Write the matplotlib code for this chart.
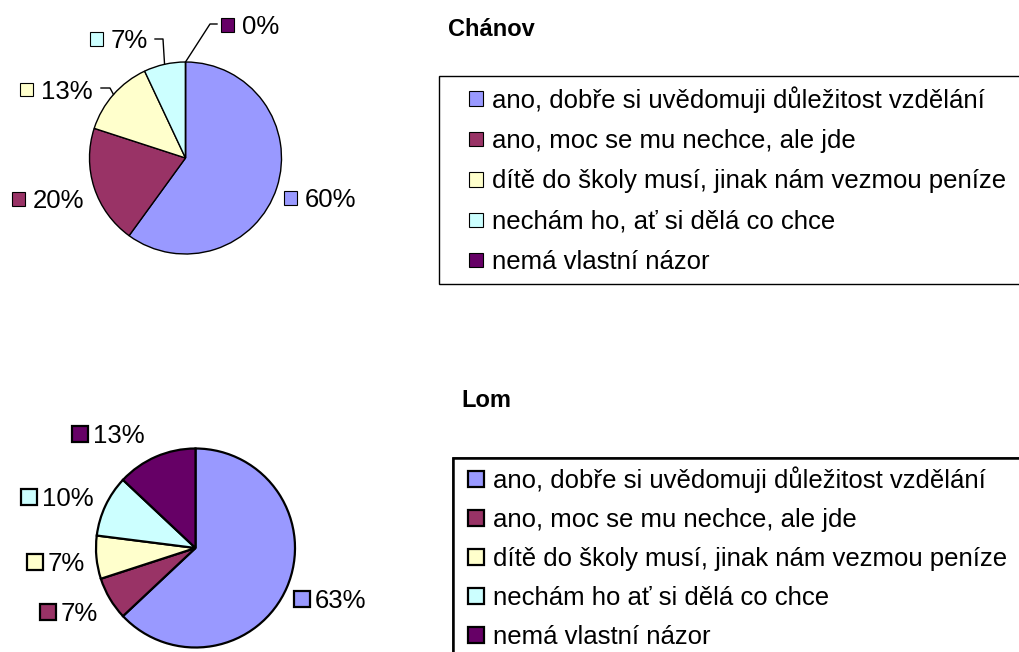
import numpy as np
import matplotlib
matplotlib.use("Agg")
import matplotlib.pyplot as plt
from matplotlib.patches import Rectangle
from matplotlib.legend_handler import HandlerPatch

# ---------------- data ----------------
categories_chanov = [
    "ano, dobře si uvědomuji důležitost vzdělání",
    "ano, moc se mu nechce, ale jde",
    "dítě do školy musí, jinak nám vezmou peníze",
    "nechám ho, ať si dělá co chce",
    "nemá vlastní názor",
]
categories_lom = [
    "ano, dobře si uvědomuji důležitost vzdělání",
    "ano, moc se mu nechce, ale jde",
    "dítě do školy musí, jinak nám vezmou peníze",
    "nechám ho ať si dělá co chce",
    "nemá vlastní názor",
]
values_chanov = [60, 20, 13, 7, 0]
values_lom = [63, 7, 7, 10, 13]
title_chanov = "Chánov"
title_lom = "Lom"
colors = ["#9999FF", "#993366", "#FFFFCC", "#CCFFFF", "#660066"]

# ---------------- layout (pixels, y measured from top) ----------------
W, H, DPI = 1019, 652, 100
FS = 18.5                      # points
FSPX = FS * DPI / 72.0         # pixels
PT = 72.0 / DPI                # px -> pt

plt.rcParams["font.family"] = ["Liberation Sans", "DejaVu Sans"]

fig = plt.figure(figsize=(W / DPI, H / DPI), dpi=DPI)
ax = fig.add_axes([0, 0, 1, 1])


def Y(y):
    return H - y


class SquareHandler(HandlerPatch):
    def __init__(self, size_px, lw):
        super().__init__()
        self.size = size_px * PT
        self.lw = lw

    def create_artists(self, legend, orig_handle, xdescent, ydescent,
                       width, height, fontsize, trans):
        s = self.size
        x0 = -xdescent + width - s
        y0 = -ydescent + (height - s) / 2.0
        r = Rectangle((x0, y0), s, s, facecolor=orig_handle.get_facecolor(),
                      edgecolor="black", lw=self.lw, transform=trans)
        return [r]


def draw_pie(values, cats, title, center, radius, edge_lw, label_pos, sq,
             sq_lw, leaders, title_xy, leg_anchor, leg_pad_px, leg_handle_px,
             leg_sq_px, leg_spacing_px, leg_lw, leg_sq_lw):
    cx, cy = center
    wedges, _ = ax.pie(values, colors=colors, startangle=90, counterclock=False,
                       center=(cx, Y(cy)), radius=radius, frame=True,
                       wedgeprops=dict(edgecolor="black", linewidth=edge_lw))
    # data labels
    for i, (w, v) in enumerate(zip(wedges, values)):
        lx, ly = label_pos[i]
        ax.add_patch(Rectangle((lx, Y(ly) - sq / 2.0), sq, sq,
                               facecolor=colors[i], edgecolor="black",
                               lw=sq_lw, zorder=5))
        ax.text(lx + 21, Y(ly + 0.358 * FSPX), f"{v}%", fontsize=FS,
                ha="left", va="baseline", color="black", zorder=5)
        if i in leaders:
            mid = np.deg2rad((w.theta1 + w.theta2) / 2.0)
            ex = cx + radius * np.cos(mid)
            ey = Y(cy) + radius * np.sin(mid)
            pts = [(ex, ey)] + [(px, Y(py)) for px, py in leaders[i]]
            xs, ys = zip(*pts)
            ax.plot(xs, ys, color="black", lw=1.0, zorder=4)
    # title
    ax.text(title_xy[0], Y(title_xy[1]), title, fontsize=17, fontweight="bold",
            ha="left", va="baseline", color="black")
    # legend (right edge runs past the figure border, as in the original)
    text_h = 0.93 * FSPX
    leg = ax.legend(wedges, cats, loc="upper left", mode="expand",
                    bbox_to_anchor=(leg_anchor[0] / W, 1 - leg_anchor[1] / H,
                                    (1040 - leg_anchor[0]) / W, 0),
                    bbox_transform=fig.transFigure, borderaxespad=0,
                    fontsize=FS, frameon=True, fancybox=False, shadow=False,
                    framealpha=1, borderpad=leg_pad_px / FSPX,
                    handlelength=leg_handle_px / FSPX,
                    handleheight=0.7, handletextpad=9 / FSPX,
                    labelspacing=(leg_spacing_px - text_h) / FSPX,
                    handler_map={w: SquareHandler(leg_sq_px, leg_sq_lw)
                                 for w in wedges})
    leg.get_frame().set_edgecolor("black")
    leg.get_frame().set_linewidth(leg_lw)
    ax.add_artist(leg)
    return wedges


# Chánov (top)
draw_pie(values_chanov, categories_chanov, title_chanov,
         center=(185.5, 158), radius=96, edge_lw=1.0,
         label_pos=[(284, 198), (12, 199), (20, 89.5), (90, 39), (221, 25)],
         sq=13.5, sq_lw=0.8,
         leaders={2: [(110, 88), (101, 88)], 3: [(163, 39), (155, 39)],
                  4: [(210, 24), (217, 24)]},
         title_xy=(448, 36),
         leg_anchor=(439, 76), leg_pad_px=10, leg_handle_px=34, leg_sq_px=14.5,
         leg_spacing_px=40.25, leg_lw=1.0, leg_sq_lw=0.8)

# Lom (bottom)
draw_pie(values_lom, categories_lom, title_lom,
         center=(195.5, 548), radius=99.5, edge_lw=1.6,
         label_pos=[(294, 599), (40, 612), (27, 562), (21, 497), (72, 434)],
         sq=16, sq_lw=1.6, leaders={},
         title_xy=(461, 407),
         leg_anchor=(453, 458), leg_pad_px=8, leg_handle_px=23, leg_sq_px=16,
         leg_spacing_px=39, leg_lw=1.8, leg_sq_lw=1.6)

ax.set_xlim(0, W)
ax.set_ylim(0, H)
ax.set_aspect("auto")
ax.axis("off")

fig.savefig("out.png", dpi=DPI, facecolor="white")
